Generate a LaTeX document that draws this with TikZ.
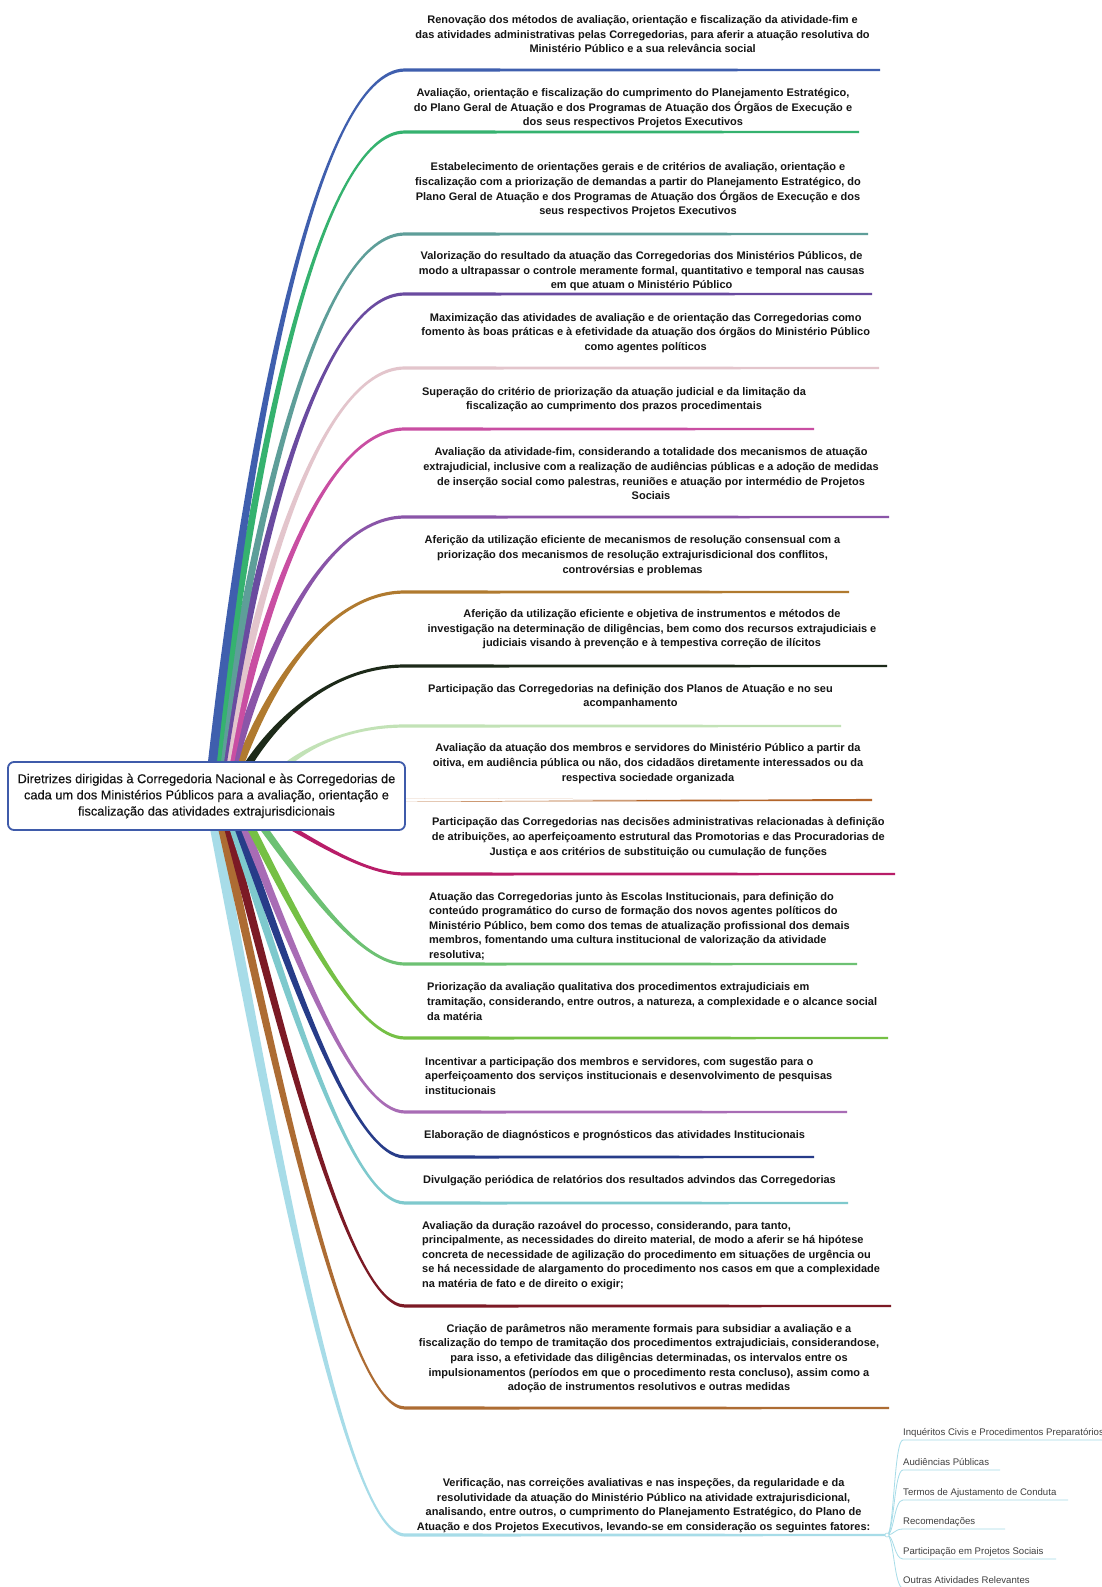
\documentclass[tikz,border=0pt]{standalone}
\usepackage{fontspec}
\setmainfont{Liberation Sans}
\newfontfamily\rootfont[FakeBold=0.4]{Liberation Sans}
\definecolor{c1}{HTML}{3F5FAE}
\definecolor{c2}{HTML}{35B26F}
\definecolor{c3}{HTML}{5E9E99}
\definecolor{c4}{HTML}{6A4BA0}
\definecolor{c5}{HTML}{E3C5CC}
\definecolor{c6}{HTML}{C94EA2}
\definecolor{c7}{HTML}{8A55A8}
\definecolor{c8}{HTML}{B07A2F}
\definecolor{c9}{HTML}{1D2A19}
\definecolor{c10}{HTML}{C2E2B6}
\definecolor{c11}{HTML}{B3652A}
\definecolor{c12}{HTML}{B81D68}
\definecolor{c13}{HTML}{6DC173}
\definecolor{c14}{HTML}{75C045}
\definecolor{c15}{HTML}{A86CB5}
\definecolor{c16}{HTML}{273C89}
\definecolor{c17}{HTML}{7EC9CD}
\definecolor{c18}{HTML}{7C1A25}
\definecolor{c19}{HTML}{AD6C33}
\definecolor{c20}{HTML}{A7DCE8}
\definecolor{rootblue}{HTML}{3F5BAA}
\definecolor{txt}{HTML}{151515}
\definecolor{subtxtc}{HTML}{404040}
\def\mmw{4.5}
\def\mmfa{0.2}
\def\mmfb{0.45}
\newcommand\mmbranch[6]{%
  \pgfmathsetmacro\mmcx{#3+\mmfa*(405-#3)}%
  \pgfmathsetmacro\mmcy{#4+0.5*(#5-#4)}%
  \pgfmathsetmacro\mmcbx{405-\mmfb*(405-#3)}%
  \pgfmathsetmacro\mmo{0.85*\mmw}%
  \pgfmathsetmacro\mms{(#5>#4)?1:-1}%
  \pgfmathsetmacro\mmya{#5+1.6*\mms}%
  \pgfmathsetmacro\mmyb{#5-1.6*\mms}%
  \pgfmathsetmacro\mmyc{#5+1.1*\mms}%
  \pgfmathsetmacro\mmyd{#5-1.1*\mms}%
  \coordinate (#1) at (#6,#5);%
  \fill[#2] (#3-\mmw,#4) .. controls (\mmcx-\mmo,\mmcy) and (\mmcbx,\mmya) .. (405,\mmya)
     -- (#6,\mmyc) -- (#6,\mmyd) -- (405,\mmyb)
     .. controls (\mmcbx,\mmyb) and (\mmcx+\mmo,\mmcy) .. (#3+\mmw,#4) -- cycle;%
}
\tikzset{
  btxt/.style={font=\bfseries\fontsize{11}{14.6}\selectfont, align=center, inner sep=0pt, text=txt},
  btxtl/.style={btxt, align=left, anchor=west},
  subtxt/.style={font=\fontsize{9.6}{11}\selectfont, inner sep=0pt, text=subtxtc, anchor=base west},
  subline/.style={draw=c20, line width=0.8pt},
  rootbox/.style={draw=rootblue, line width=1.8pt, rounded corners=6pt, fill=white,
     minimum width=397pt, minimum height=68pt, align=center, inner sep=0pt,
     font=\rootfont\fontsize{12.8}{16.2}\selectfont, text=txt},
}
\begin{document}
\begin{tikzpicture}[x=1pt,y=-1pt]
\useasboundingbox (0,0) rectangle (1102,1587);
\fill[white] (0,0) rectangle (1102,1587);
% lower branches
\def\mmfa{0.35}\def\mmfb{0.3}
\def\mmw{5.5}
\mmbranch{e20}{c20}{215}{826}{1535}{889}
\def\mmw{4.5}
\mmbranch{e19}{c19}{222}{826}{1408}{889}
\mmbranch{e18}{c18}{228}{826}{1306}{891}
\mmbranch{e17}{c17}{233}{826}{1203}{848}
\mmbranch{e16}{c16}{238}{826}{1157}{814}
\mmbranch{e15}{c15}{244}{826}{1112}{847}
\mmbranch{e14}{c14}{250}{826}{1038}{888}
\mmbranch{e13}{c13}{262}{826}{964}{857}
\mmbranch{e12}{c12}{288}{826}{874}{895}
% straight branch from the box side
\coordinate (e11) at (872,800);
\fill[c11] (398,798.4) -- (e11) ++(0,-1.1) -- ++(0,2.2) -- (398,801.6) -- cycle;
% upper branches
\def\mmfa{0.2}\def\mmfb{0.45}
\mmbranch{e10}{c10}{285}{766}{726}{841}
\mmbranch{e9}{c9}{247}{766}{666}{887}
\mmbranch{e8}{c8}{239}{766}{592}{849}
\mmbranch{e7}{c7}{233}{766}{517}{889}
\mmbranch{e6}{c6}{229}{766}{429}{814}
\mmbranch{e5}{c5}{225}{766}{368}{879}
\mmbranch{e4}{c4}{222}{766}{294}{872}
\mmbranch{e3}{c3}{219}{766}{234}{868}
\mmbranch{e2}{c2}{216}{766}{132}{859}
\mmbranch{e1}{c1}{212}{766}{70}{880}
% root
\node[rootbox] (root) at (206.5,796) {Diretrizes dirigidas à Corregedoria Nacional e às Corregedorias de\\cada um dos Ministérios Públicos para a avaliação, orientação e\\fiscalização das atividades extrajurisdicionais};
% branch texts
\node[btxt] (t1) at (642.6,34.4) {Renovação dos métodos de avaliação, orientação e fiscalização da atividade-fim e\\das atividades administrativas pelas Corregedorias, para aferir a atuação resolutiva do\\Ministério Público e a sua relevância social};
\node[btxt] (t2) at (633,108.3) {Avaliação, orientação e fiscalização do cumprimento do Planejamento Estratégico,\\do Plano Geral de Atuação e dos Programas de Atuação dos Órgãos de Execução e\\dos seus respectivos Projetos Executivos};
\node[btxt] (t3) at (638,190) {Estabelecimento de orientações gerais e de critérios de avaliação, orientação e\\fiscalização com a priorização de demandas a partir do Planejamento Estratégico, do\\Plano Geral de Atuação e dos Programas de Atuação dos Órgãos de Execução e dos\\seus respectivos Projetos Executivos};
\node[btxt] (t4) at (641.6,271.5) {Valorização do resultado da atuação das Corregedorias dos Ministérios Públicos, de\\modo a ultrapassar o controle meramente formal, quantitativo e temporal nas causas\\em que atuam o Ministério Público};
\node[btxt] (t5) at (645.7,333) {Maximização das atividades de avaliação e de orientação das Corregedorias como\\fomento às boas práticas e à efetividade da atuação dos órgãos do Ministério Público\\como agentes políticos};
\node[btxt] (t6) at (614,399.7) {Superação do critério de priorização da atuação judicial e da limitação da\\fiscalização ao cumprimento dos prazos procedimentais};
\node[btxt] (t7) at (651,473.9) {Avaliação da atividade-fim, considerando a totalidade dos mecanismos de atuação\\extrajudicial, inclusive com a realização de audiências públicas e a adoção de medidas\\de inserção social como palestras, reuniões e atuação por intermédio de Projetos\\Sociais};
\node[btxt] (t8) at (632.5,555.6) {Aferição da utilização eficiente de mecanismos de resolução consensual com a\\priorização dos mecanismos de resolução extrajurisdicional dos conflitos,\\controvérsias e problemas};
\node[btxt] (t9) at (652,629.5) {Aferição da utilização eficiente e objetiva de instrumentos e métodos de\\investigação na determinação de diligências, bem como dos recursos extrajudiciais e\\judiciais visando à prevenção e à tempestiva correção de ilícitos};
\node[btxt] (t10) at (630.5,696.8) {Participação das Corregedorias na definição dos Planos de Atuação e no seu\\acompanhamento};
\node[btxt] (t11) at (648,763.7) {Avaliação da atuação dos membros e servidores do Ministério Público a partir da\\oitiva, em audiência pública ou não, dos cidadãos diretamente interessados ou da\\respectiva sociedade organizada};
\node[btxt] (t12) at (658.3,837.6) {Participação das Corregedorias nas decisões administrativas relacionadas à definição\\de atribuições, ao aperfeiçoamento estrutural das Promotorias e das Procuradorias de\\Justiça e aos critérios de substituição ou cumulação de funções};
\node[btxtl] (t13) at (429,926.2) {Atuação das Corregedorias junto às Escolas Institucionais, para definição do\\conteúdo programático do curso de formação dos novos agentes políticos do\\Ministério Público, bem como dos temas de atualização profissional dos demais\\membros, fomentando uma cultura institucional de valorização da atividade\\resolutiva;};
\node[btxtl] (t14) at (427,1001.6) {Priorização da avaliação qualitativa dos procedimentos extrajudiciais em\\tramitação, considerando, entre outros, a natureza, a complexidade e o alcance social\\da matéria};
\node[btxtl] (t15) at (425,1076) {Incentivar a participação dos membros e servidores, com sugestão para o\\aperfeiçoamento dos serviços institucionais e desenvolvimento de pesquisas\\institucionais};
\node[btxtl] (t16) at (424,1135.5) {Elaboração de diagnósticos e prognósticos das atividades Institucionais};
\node[btxtl] (t17) at (423,1181) {Divulgação periódica de relatórios dos resultados advindos das Corregedorias};
\node[btxtl] (t18) at (422,1255.5) {Avaliação da duração razoável do processo, considerando, para tanto,\\principalmente, as necessidades do direito material, de modo a aferir se há hipótese\\concreta de necessidade de agilização do procedimento em situações de urgência ou\\se há necessidade de alargamento do procedimento nos casos em que a complexidade\\na matéria de fato e de direito o exigir;};
\node[btxt] (t19) at (649,1358.5) {Criação de parâmetros não meramente formais para subsidiar a avaliação e a\\fiscalização do tempo de tramitação dos procedimentos extrajudiciais, considerandose,\\para isso, a efetividade das diligências determinadas, os intervalos entre os\\impulsionamentos (períodos em que o procedimento resta concluso), assim como a\\adoção de instrumentos resolutivos e outras medidas};
\node[btxt] (t20) at (643.6,1505.6) {Verificação, nas correições avaliativas e nas inspeções, da regularidade e da\\resolutividade da atuação do Ministério Público na atividade extrajurisdicional,\\analisando, entre outros, o cumprimento do Planejamento Estratégico, do Plano de\\Atuação e dos Projetos Executivos, levando-se em consideração os seguintes fatores:};
% sub-branches
\coordinate (junc) at (887,1535);
\coordinate (u1) at (903,1440); \coordinate (v1) at (1110,1440);
\coordinate (u2) at (903,1470); \coordinate (v2) at (1000,1470);
\coordinate (u3) at (903,1500); \coordinate (v3) at (1068,1500);
\coordinate (u4) at (903,1529); \coordinate (v4) at (1005,1529);
\coordinate (u5) at (903,1559); \coordinate (v5) at (1056,1559);
\coordinate (u6) at (903,1588); \coordinate (v6) at (1037,1588);
\foreach \k in {1,...,6}{
  \draw[subline] (junc) .. controls ([xshift=7pt]junc) and ([xshift=-9pt]u\k) .. (u\k) -- (v\k);
}
\draw[c20, fill=white, line width=0.6pt] (junc) circle (2pt);
\node[subtxt] (s1) at ([yshift=5pt]u1) {Inquéritos Civis e Procedimentos Preparatórios};
\node[subtxt] (s2) at ([yshift=5pt]u2) {Audiências Públicas};
\node[subtxt] (s3) at ([yshift=5pt]u3) {Termos de Ajustamento de Conduta};
\node[subtxt] (s4) at ([yshift=5pt]u4) {Recomendações};
\node[subtxt] (s5) at ([yshift=5pt]u5) {Participação em Projetos Sociais};
\node[subtxt] (s6) at ([yshift=5pt]u6) {Outras Atividades Relevantes};
\end{tikzpicture}
\end{document}
